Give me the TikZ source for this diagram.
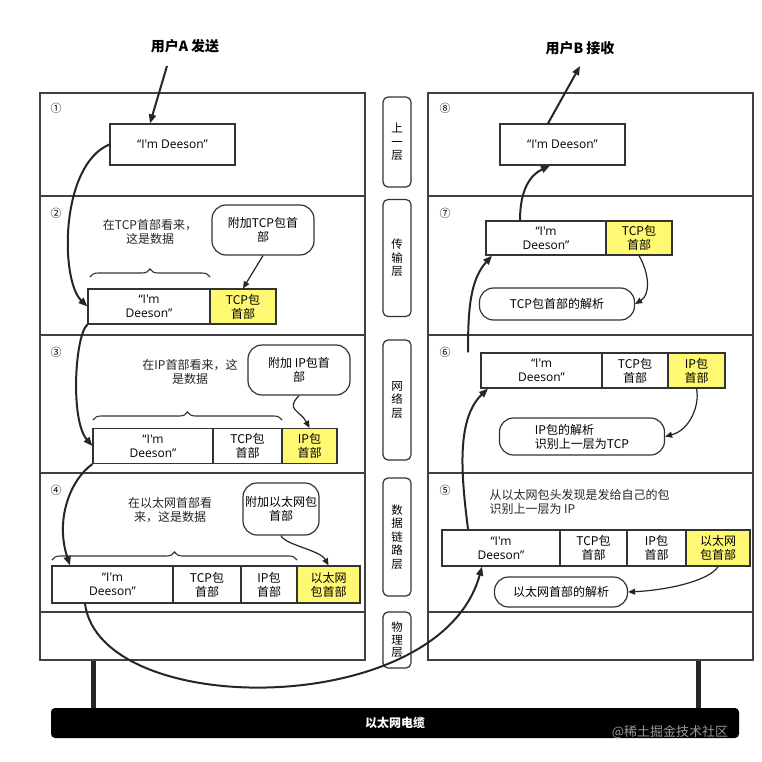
\documentclass[tikz,border=0pt]{standalone}
\usepackage{fontspec}
\setmainfont{Noto Sans CJK SC}
\newfontfamily\lat{Open Sans}
\newcommand{\deeson}{{\lat “I'm Deeson”}}
\newcommand{\deesonb}{{\lat “I'm}\\{\lat Deeson”}}
\usetikzlibrary{arrows.meta,decorations.pathreplacing}
\begin{document}
\begin{tikzpicture}[x=1pt,y=-1pt,
  panel/.style={draw=black!75,line width=1.6pt},
  row/.style={draw=black!75,line width=1.2pt},
  side/.style={draw=black!80,line width=1.2pt,rounded corners=5pt,minimum width=28,align=center,font=\fontsize{11.5}{13.5}\selectfont},
  cell/.style={draw=black!80,line width=1.2pt,minimum height=35,align=center,inner sep=1pt,font=\fontsize{12}{14}\selectfont},
  hdr/.style={cell,fill=yellow!55},
  bub/.style={draw=black!80,line width=1.2pt,rounded corners=14pt,align=center,font=\fontsize{12}{14}\selectfont,inner sep=2pt},
  txt/.style={align=center,font=\fontsize{12}{14}\selectfont,text=black!85},
  num/.style={font=\fontsize{11}{11}\selectfont},
  arr/.style={line width=2pt,-{Triangle[length=9pt,width=7pt]},black!85},
  sarr/.style={line width=1.2pt,-{Triangle[length=7pt,width=6pt]},black!85},
  brc/.style={decorate,decoration={brace,amplitude=8pt},line width=1.1pt,black!80}]
\useasboundingbox (0,0) rectangle (761,762);
\fill[white] (0,0) rectangle (761,762);
% legs and cable
\draw[line width=5pt,black!85] (93,660) -- (93,710);
\draw[line width=5pt,black!85] (698,660) -- (698,710);
\node[fill=black,rounded corners=4pt,minimum width=688,minimum height=30,text=white,font=\bfseries\fontsize{12}{12}\selectfont] (cable) at (395,723) {以太网电缆};
\node[text=black!40,font=\fontsize{13}{13}\selectfont] (wm) at (670,732) {@稀土掘金技术社区};
% panels
\draw[panel] (40,93) rectangle (365,660);
\draw[panel] (428,93) rectangle (753,660);
\foreach \y in {196,335,473,612}{\draw[row] (40,\y) -- (365,\y); \draw[row] (428,\y) -- (753,\y);}
% side labels
\node[side,minimum height=90] (s1) at (397,142) {上\\一\\层};
\node[side,minimum height=117] (s2) at (397,258) {传\\输\\层};
\node[side,minimum height=120] (s3) at (397,400) {网\\络\\层};
\node[side,minimum height=118] (s4) at (397,537) {数\\据\\链\\路\\层};
\node[side,minimum height=56,font=\fontsize{11.5}{12.5}\selectfont,inner sep=1pt] (s5) at (397,640) {物\\理\\层};
% titles
\node[font=\bfseries\fontsize{14}{14}\selectfont] (ta) at (185,46) {用户A 发送};
\node[font=\bfseries\fontsize{14}{14}\selectfont] (tb) at (580,48) {用户B 接收};
% numbers
\node[num] (n1) at (56,108) {①};
\node[num] (n2) at (56,213) {②};
\node[num] (n3) at (56,352) {③};
\node[num] (n4) at (56,490) {④};
\node[num] (n5) at (445,490) {⑤};
\node[num] (n6) at (445,352) {⑥};
\node[num] (n7) at (445,213) {⑦};
\node[num] (n8) at (445,108) {⑧};
% step 1
\node[cell,minimum width=125,minimum height=41] (b1) at (172.5,144.5) {\deeson};
% step 2
\node[txt] (t2) at (150,232) {在TCP首部看来，\\这是数据};
\node[bub,minimum width=102,minimum height=50] (u2) at (263,230) {附加TCP包首\\部};
\node[cell,minimum width=122] (p2a) at (149,306.5) {\deesonb};
\node[hdr,minimum width=66] (p2b) at (243,306.5) {TCP包\\首部};
\draw[brc] (90,277) -- (210,277);
\draw[sarr] (u2.south) -- (p2b.north);
% step 3
\node[txt] (t3) at (190,372) {在IP首部看来，这\\是数据};
\node[bub,minimum width=102,minimum height=50] (u3) at (299,370) {附加 IP包首\\部};
\node[cell,minimum width=120] (p3a) at (153,446) {\deesonb};
\node[cell,minimum width=69] (p3b) at (247.5,446) {TCP包\\首部};
\node[hdr,minimum width=55] (p3c) at (309.5,446) {IP包\\首部};
\draw[brc] (93,420) -- (282,420);
\draw[sarr] (u3.south) .. controls (285,410) and (300,410) .. (p3c.north);
% step 4
\node[txt] (t4) at (170,510) {在以太网首部看\\来，这是数据};
\node[bub,minimum width=75,minimum height=52] (u4) at (281,509) {附加以太网包\\首部};
\node[cell,minimum width=121,minimum height=37] (p4a) at (112.5,584.5) {\deesonb};
\node[cell,minimum width=68,minimum height=37] (p4b) at (207,584.5) {TCP包\\首部};
\node[cell,minimum width=56,minimum height=37] (p4c) at (269,584.5) {IP包\\首部};
\node[hdr,minimum width=63,minimum height=37] (p4d) at (328.5,584.5) {以太网\\包首部};
\draw[brc] (52,560) -- (297,560);
\draw[sarr] (u4.south) .. controls (285,545) and (320,550) .. (p4d.north);
% right step 8
\node[cell,minimum width=125,minimum height=41] (b8) at (562.5,144.5) {\deeson};
% step 7
\node[cell,minimum width=120,minimum height=34] (p7a) at (546,238) {\deesonb};
\node[hdr,minimum width=66,minimum height=34] (p7b) at (639,238) {TCP包\\首部};
\node[bub,minimum width=155,minimum height=32] (u7) at (557,304) {TCP包首部的解析};
% step 6
\node[cell,minimum width=121] (p6a) at (541.5,370.5) {\deesonb};
\node[cell,minimum width=66] (p6b) at (635,370.5) {TCP包\\首部};
\node[hdr,minimum width=57] (p6c) at (696.5,370.5) {IP包\\首部};
\node[bub,minimum width=165,minimum height=37,align=left] (u6) at (582,436.5) {IP包的解析\\识别上一层为TCP};
% step 5
\node[txt,align=left,anchor=west] (t5) at (486,502) {从以太网包头发现是发给自己的包\\识别上一层为 IP};
\node[cell,minimum width=118,minimum height=36] (p5a) at (501,548) {\deesonb};
\node[cell,minimum width=67,minimum height=36] (p5b) at (593.5,548) {TCP包\\首部};
\node[cell,minimum width=59,minimum height=36] (p5c) at (656.5,548) {IP包\\首部};
\node[hdr,minimum width=64,minimum height=36] (p5d) at (718,548) {以太网\\包首部};
\node[bub,minimum width=133,minimum height=30] (u5) at (561,592) {以太网首部的解析};
% small parse arrows
\draw[sarr] (p7b.south) .. controls (650,275) and (650,295) .. (u7.east);
\draw[sarr] (p6c.south) .. controls (700,405) and (690,430) .. (u6.east);
\draw[sarr] (p5d.south) .. controls (710,580) and (670,590) .. (u5.east);
% sender chain
\coordinate (sa) at (167,66);
\draw[arr] (sa) -- (b1.north west -| 150,124);
\draw[arr] (b1.west) .. controls (60,165) and (60,280) .. (p2a.west);
\draw[arr] (p2a.south west) .. controls (75,335) and (70,420) .. (p3a.west);
\draw[arr] (p3a.south west) .. controls (70,480) and (55,520) .. (p4a.north west -| 70,566);
% cable crossing
\draw[arr] (p4a.south west -| 85,603) .. controls (100,720) and (440,720) .. (p5a.south west -| 482,566);
% receiver chain
\draw[arr] (p5a.north west -| 468,530) .. controls (462,480) and (455,420) .. (p6a.south west -| 488,388);
\draw[arr] (p6a.north west -| 468,353) .. controls (468,310) and (470,280) .. (p7a.south west -| 492,255);
\draw[arr] (p7a.north west -| 520,221) .. controls (520,190) and (530,175) .. (b8.south west -| 550,165);
\coordinate (eb) at (580,66);
\draw[arr] (b8.north west -| 548,124) -- (eb);
\end{tikzpicture}
\end{document}
